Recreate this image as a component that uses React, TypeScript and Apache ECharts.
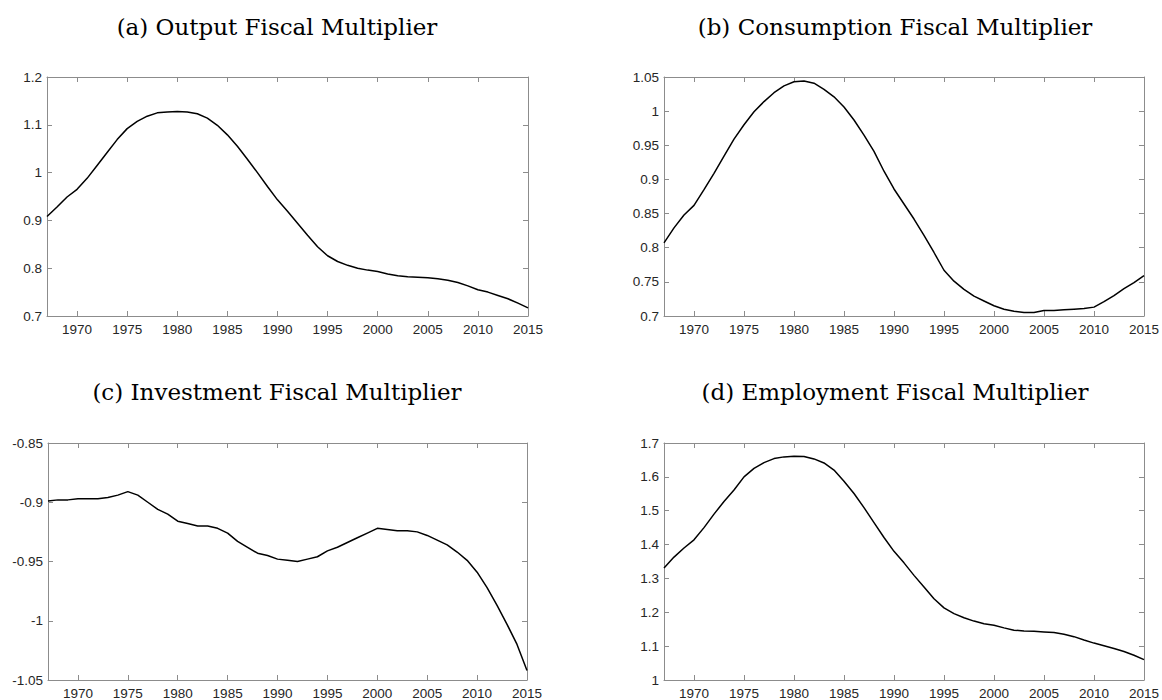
import React, { useEffect, useRef } from "react";
import * as echarts from "echarts";

const years: number[] = [];
for (let y = 1967; y <= 2015; y++) years.push(y);

const xTicks = [1970, 1975, 1980, 1985, 1990, 1995, 2000, 2005, 2010, 2015];

const titles = [
  "(a) Output Fiscal Multiplier",
  "(b) Consumption Fiscal Multiplier",
  "(c) Investment Fiscal Multiplier",
  "(d) Employment Fiscal Multiplier",
];

const outputMult = [
  0.908, 0.928, 0.949, 0.965, 0.988, 1.015, 1.042, 1.069, 1.092, 1.107,
  1.118, 1.125, 1.127, 1.128, 1.127, 1.123, 1.114, 1.099, 1.079, 1.055,
  1.028, 1.0, 0.971, 0.943, 0.919, 0.894, 0.869, 0.845, 0.826, 0.814,
  0.806, 0.8, 0.796, 0.793, 0.788, 0.784, 0.782, 0.781, 0.78, 0.778,
  0.775, 0.77, 0.763, 0.755, 0.75, 0.743, 0.736, 0.727, 0.717,
];

const consumptionMult = [
  0.807, 0.829, 0.848, 0.862, 0.885, 0.909, 0.934, 0.959, 0.98, 0.999,
  1.014, 1.027, 1.037, 1.043, 1.044, 1.041, 1.032, 1.021, 1.006, 0.987,
  0.965, 0.941, 0.912, 0.886, 0.864, 0.842, 0.818, 0.793, 0.767, 0.751,
  0.739, 0.729, 0.722, 0.715, 0.71, 0.707, 0.705, 0.705, 0.708, 0.708,
  0.709, 0.71, 0.711, 0.713, 0.721, 0.73, 0.74, 0.749, 0.759,
];

const investmentMult = [
  -0.899, -0.898, -0.898, -0.897, -0.897, -0.897, -0.896, -0.894, -0.891, -0.894,
  -0.9, -0.906, -0.91, -0.916, -0.918, -0.92, -0.92, -0.922, -0.926, -0.933,
  -0.938, -0.943, -0.945, -0.948, -0.949, -0.95, -0.948, -0.946, -0.941, -0.938,
  -0.934, -0.93, -0.926, -0.922, -0.923, -0.924, -0.924, -0.925, -0.928, -0.932,
  -0.936, -0.942, -0.949, -0.959, -0.972, -0.987, -1.003, -1.02, -1.042,
];

const employmentMult = [
  1.331, 1.363, 1.39, 1.414, 1.45, 1.49, 1.527, 1.561, 1.6, 1.625,
  1.642, 1.654, 1.659, 1.661, 1.66, 1.653, 1.641, 1.62, 1.587, 1.551,
  1.509, 1.465, 1.421, 1.38, 1.346, 1.309, 1.275, 1.24, 1.213, 1.196,
  1.184, 1.174, 1.166, 1.162, 1.154, 1.147, 1.145, 1.144, 1.142, 1.14,
  1.135, 1.128, 1.118, 1.109, 1.101, 1.093, 1.084, 1.073, 1.06,
];

const seriesValues = [outputMult, consumptionMult, investmentMult, employmentMult];

const yRanges = [
  { min: 0.7, max: 1.2, interval: 0.1 },
  { min: 0.7, max: 1.05, interval: 0.05 },
  { min: -1.05, max: -0.85, interval: 0.05 },
  { min: 1.0, max: 1.7, interval: 0.1 },
];

const grids = [
  { left: 47, top: 77, width: 481, height: 239 },
  { left: 664, top: 77, width: 480, height: 239 },
  { left: 48, top: 443, width: 479, height: 239 },
  { left: 664, top: 443, width: 480, height: 239 },
];

const titlePos = [
  { x: 277, y: 27 },
  { x: 895, y: 27 },
  { x: 277, y: 392 },
  { x: 895, y: 392 },
];

const AXIS_COLOR = "#8c8c8c";
const LABEL_COLOR = "#262626";
const LABEL_FONT = "Liberation Sans";

export default function App() {
  const ref = useRef<HTMLDivElement>(null);

  useEffect(() => {
    if (!ref.current) return;
    const chart = echarts.init(ref.current, undefined, { renderer: "svg" });

    const xAxis: any[] = [];
    const yAxis: any[] = [];
    const series: any[] = [];

    grids.forEach((g, i) => {
      const common = {
        type: "value",
        gridIndex: i,
        min: 1967,
        max: 2015,
        splitLine: { show: false },
        axisLine: { show: true, onZero: false, lineStyle: { color: AXIS_COLOR, width: 1 } },
        axisTick: {
          show: true,
          inside: true,
          length: 5,
          customValues: xTicks,
          lineStyle: { color: AXIS_COLOR, width: 1 },
        },
      };
      xAxis.push({
        ...common,
        position: "bottom",
        axisLabel: {
          show: true,
          customValues: xTicks,
          margin: 6,
          fontSize: 13.5,
          color: LABEL_COLOR,
          fontFamily: LABEL_FONT,
          formatter: (v: number) => String(v),
        },
      });
      xAxis.push({
        ...common,
        position: "top",
        axisLabel: { show: false },
      });

      const yr = yRanges[i];
      const ycommon = {
        type: "value",
        gridIndex: i,
        min: yr.min,
        max: yr.max,
        interval: yr.interval,
        splitLine: { show: false },
        axisLine: { show: true, onZero: false, lineStyle: { color: AXIS_COLOR, width: 1 } },
        axisTick: { show: true, inside: true, length: 5, lineStyle: { color: AXIS_COLOR, width: 1 } },
      };
      yAxis.push({
        ...ycommon,
        position: "left",
        axisLabel: {
          show: true,
          margin: 5,
          fontSize: 13.5,
          color: LABEL_COLOR,
          fontFamily: LABEL_FONT,
          formatter: (v: number) => String(Math.round(v * 1000) / 1000),
        },
      });
      yAxis.push({
        ...ycommon,
        position: "right",
        axisLabel: { show: false },
      });

      series.push({
        type: "line",
        xAxisIndex: i * 2,
        yAxisIndex: i * 2,
        data: years.map((yr2, k) => [yr2, seriesValues[i][k]]),
        showSymbol: false,
        symbol: "none",
        lineStyle: { color: "#000000", width: 1.5 },
        silent: true,
      });
    });

    const graphic = titles.map((t, i) => ({
      type: "text",
      x: titlePos[i].x,
      y: titlePos[i].y,
      style: {
        text: t,
        font: '23px "DejaVu Serif"',
        textAlign: "center",
        textVerticalAlign: "middle",
        fill: "#000000",
      },
    }));

    chart.setOption({
      animation: false,
      backgroundColor: "#ffffff",
      grid: grids.map((g) => ({ ...g, containLabel: false })),
      xAxis,
      yAxis,
      series,
      graphic,
    });

    return () => chart.dispose();
  }, []);

  return (
    <div
      ref={ref}
      style={{ position: "fixed", left: 0, top: 0, width: 1162, height: 700, background: "#fff" }}
    />
  );
}
